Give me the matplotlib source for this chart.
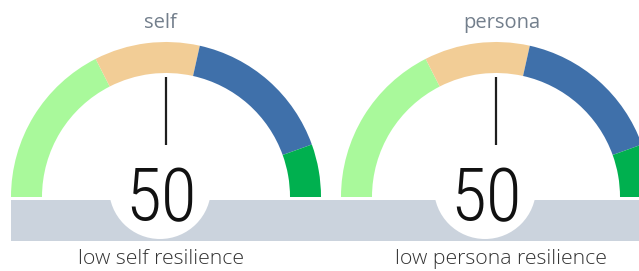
import math
import matplotlib
matplotlib.use("Agg")
import matplotlib.pyplot as plt
from matplotlib.patches import Wedge, Rectangle, Circle
from matplotlib import font_manager

# ---- data ----
gauge_titles = ["self", "persona"]
gauge_values = [50, 50]
gauge_labels = ["low self resilience", "low persona resilience"]
segment_sizes = [35, 22, 32, 11]          # share of the 0..100 scale
segment_colors = ["#a9f99b", "#f2cd96", "#3f70aa", "#00b04f"]
scale_max = 100

W, H = 639, 271
fig = plt.figure(figsize=(W / 100, H / 100), dpi=100)
ax = fig.add_axes([0, 0, 1, 1])
ax.set_xlim(0, W)
ax.set_ylim(0, H)
ax.axis("off")

def Y(y):
    return H - y

avail = {f.name for f in font_manager.fontManager.ttflist}
num_font = None
for cand in ["Roboto Condensed", "Liberation Sans Narrow", "DejaVu Sans Condensed", "Roboto"]:
    if cand in avail:
        num_font = cand
        break
text_font = "Open Sans" if "Open Sans" in avail else "DejaVu Sans"

# layout (pixels)
centers_x = [166, 496]
num_x = [161, 486]
title_x = [160, 502]
label_x = [161.5, 501]
cy = 197
r_out, r_in = 155, 124

# grey band
ax.add_patch(Rectangle((11, Y(241)), W - 11, 41, facecolor="#cbd3dd", edgecolor="none", zorder=1))

for i in range(2):
    cx = centers_x[i]
    start = 0
    for size, col in zip(segment_sizes, segment_colors):
        t1 = 180 - 180 * start / scale_max
        t2 = 180 - 180 * (start + size) / scale_max
        ax.add_patch(Wedge((cx, Y(cy)), r_out, t2, t1, width=r_out - r_in,
                           facecolor=col, edgecolor="none", zorder=2))
        start += size
    # needle
    ang = math.radians(180 - 180 * gauge_values[i] / scale_max)
    r0, r1 = 52, 120
    ax.plot([cx + r0 * math.cos(ang), cx + r1 * math.cos(ang)],
            [Y(cy) + r0 * math.sin(ang), Y(cy) + r1 * math.sin(ang)],
            color="#1e1e1e", lw=1.6, solid_capstyle="butt", zorder=4)
    # white circle cutout
    ax.add_patch(Circle((num_x[i] - 1, Y(188)), 51, facecolor="white", edgecolor="none", zorder=3))
    ax.text(num_x[i], Y(221), str(gauge_values[i]), ha="center", va="baseline",
            fontsize=53, family=num_font, fontweight="light", color="#111111", zorder=5)
    ax.text(title_x[i], Y(28), gauge_titles[i], ha="center", va="baseline",
            fontsize=14.5, family=text_font, color="#737f8c", zorder=5)
    ax.text(label_x[i], Y(264), gauge_labels[i], ha="center", va="baseline",
            fontsize=15.3, family=text_font, fontweight="light", color="#333333", zorder=5)

fig.savefig("out.png", dpi=100)
